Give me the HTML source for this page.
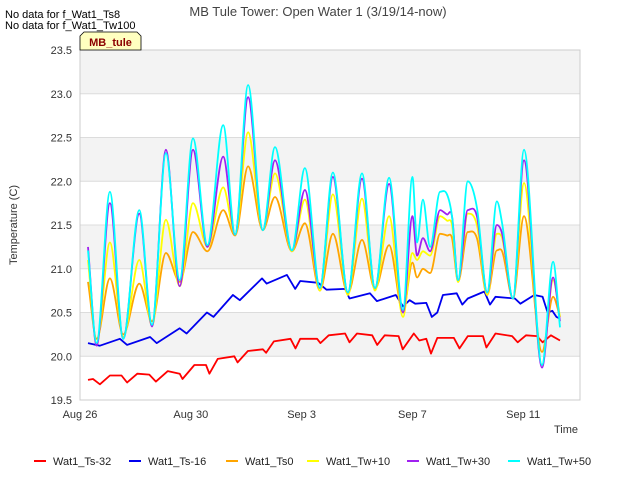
<!DOCTYPE html>
<html><head><meta charset="utf-8"><style>
body{margin:0;background:#fff;font-family:"Liberation Sans",sans-serif}
svg{display:block}
</style></head><body>
<svg id="chart" width="640" height="480" font-family="Liberation Sans, sans-serif">
<rect x="0" y="0" width="640" height="480" fill="#fff"/>
<g id="bands"></g>
<g id="grid"></g>
<rect x="80" y="50" width="500" height="350" fill="none" stroke="#ccc"/>
<g id="series"></g>
<g id="yticks"></g>
<g id="xticks"></g>
<text x="318" y="16" text-anchor="middle" font-size="13" fill="#444">MB Tule Tower: Open Water 1 (3/19/14-now)</text>
<text x="5" y="18" font-size="11" fill="#000">No data for f_Wat1_Ts8</text>
<text x="5" y="29" font-size="11" fill="#000">No data for f_Wat1_Tw100</text>
<g>
<path d="M80,50 L80,36 L84,32 L137,32 L141,36 L141,50 Z" fill="#ffffc0" stroke="#000" stroke-width="0.8"/>
<text x="110.5" y="46" text-anchor="middle" font-size="11" font-weight="bold" fill="#8b0000">MB_tule</text>
</g>
<text transform="translate(17,225) rotate(-90)" text-anchor="middle" font-size="11" fill="#333">Temperature (C)</text>
<text x="566" y="433" text-anchor="middle" font-size="11" fill="#333">Time</text>
<g id="legend"></g>
</svg>
<script>
const yTicks=[19.5,20.0,20.5,21.0,21.5,22.0,22.5,23.0,23.5];
const xTickDays=[0,4,8,12,16];
const xTickLabels=["Aug 26","Aug 30","Sep 3","Sep 7","Sep 11"];
const seriesNames=["Wat1_Ts-32","Wat1_Ts-16","Wat1_Ts0","Wat1_Tw+10","Wat1_Tw+30","Wat1_Tw+50"];
const seriesColors=["#ff0000","#0000ee","#ffa500","#ffff00","#a020f0","#00ffff"];
const tMix=[0.29,0.6,1.08,1.56,2.14,2.6,3.1,3.6,4.08,4.6,5.17,5.6,6.07,6.6,7.04,7.65,8.12,8.66,9.13,9.67,10.18,10.65,11.16,11.66,12.0,12.17,12.38,12.64,13.0,13.25,13.43,13.65,14.0,14.33,14.7,15.05,15.24,15.63,16.03,16.68,17.08,17.33];
const vTw50=[21.21,20.15,21.88,20.2,21.67,20.36,22.32,20.87,22.49,21.27,22.64,21.39,23.1,21.44,22.39,21.21,22.15,20.78,22.1,20.73,22.09,20.78,22.04,20.53,22.05,21.3,21.79,21.25,21.88,21.85,21.6,20.87,22.0,21.7,20.73,21.77,21.52,20.66,22.36,19.9,21.08,20.33];
const vTw30=[21.25,20.12,21.75,20.2,21.63,20.34,22.36,20.8,22.36,21.25,22.28,21.39,22.96,21.44,22.24,21.21,21.9,20.78,22.05,20.73,22.03,20.78,21.97,20.5,21.6,21.15,21.35,21.2,21.67,21.62,21.6,20.87,21.67,21.6,20.73,21.5,21.4,20.66,22.24,19.87,20.9,20.4];
const vTw10=[21.1,20.15,21.3,20.22,21.1,20.35,21.56,20.8,21.75,21.25,21.93,21.39,22.56,21.44,22.09,21.2,21.79,20.75,21.85,20.7,21.8,20.75,21.6,20.45,21.18,21.1,21.2,21.15,21.6,21.55,21.5,20.85,21.63,21.5,20.7,21.4,21.35,20.66,21.98,19.9,20.87,20.45];
const vTs0=[20.85,20.2,20.89,20.25,20.83,20.4,21.18,20.85,21.42,21.2,21.67,21.38,22.17,21.44,21.82,21.2,21.52,20.75,21.4,20.72,21.33,20.77,21.27,20.5,21.07,20.9,21.0,20.95,21.4,21.38,21.35,20.85,21.42,21.35,20.7,21.21,21.2,20.66,21.6,20.05,20.68,20.45];
const tTs16=[0.29,0.72,1.44,1.7,2.53,2.77,3.6,3.85,4.58,4.82,5.52,5.77,6.57,6.74,7.47,7.77,7.95,8.6,8.9,9.57,9.73,10.47,10.72,11.4,11.66,11.9,12.1,12.5,12.7,12.9,13.1,13.6,13.8,14.0,14.6,14.8,15.0,15.7,15.9,16.4,16.7,16.88,17.05,17.2,17.33];
const vTs16=[20.15,20.12,20.2,20.13,20.22,20.15,20.32,20.26,20.5,20.45,20.7,20.64,20.89,20.83,20.93,20.77,20.86,20.84,20.76,20.77,20.66,20.72,20.63,20.7,20.57,20.64,20.6,20.61,20.45,20.5,20.7,20.72,20.59,20.66,20.74,20.59,20.68,20.66,20.6,20.7,20.68,20.5,20.52,20.45,20.43];
const tTs32=[0.29,0.47,0.72,1.08,1.5,1.7,2.07,2.5,2.74,3.17,3.6,3.7,4.13,4.55,4.67,4.97,5.57,5.69,6.06,6.6,6.72,7.0,7.6,7.78,7.95,8.56,8.68,8.98,9.57,9.73,10.0,10.55,10.73,11.0,11.5,11.65,12.05,12.25,12.5,12.67,12.9,13.5,13.7,14.0,14.55,14.67,15.0,15.6,15.8,16.1,16.5,16.7,17.0,17.33];
const vTs32=[19.73,19.74,19.68,19.78,19.78,19.7,19.8,19.79,19.71,19.83,19.8,19.74,19.9,19.9,19.8,19.97,20.0,19.93,20.06,20.08,20.04,20.17,20.2,20.09,20.2,20.2,20.15,20.24,20.26,20.16,20.26,20.24,20.13,20.24,20.23,20.08,20.26,20.18,20.2,20.03,20.21,20.21,20.09,20.23,20.23,20.1,20.26,20.23,20.16,20.24,20.23,20.16,20.24,20.18];

const NS="http://www.w3.org/2000/svg";
const X0=80,X1=580,Y0=50,Y1=400,DAYPX=27.7;
function xS(d){return X0+d*DAYPX;}
function yS(v){return Y1-(v-19.5)/(23.5-19.5)*(Y1-Y0);}
function mk(tag,attrs,parent){const e=document.createElementNS(NS,tag);for(const k in attrs)e.setAttribute(k,attrs[k]);parent.appendChild(e);return e;}
function monoPath(xs,ys){
  const n=xs.length,d=[],m=[];
  for(let i=0;i<n-1;i++)d.push((ys[i+1]-ys[i])/(xs[i+1]-xs[i]));
  for(let i=0;i<n;i++){
    if(i===0)m.push(d[0]);else if(i===n-1)m.push(d[n-2]);
    else m.push(d[i-1]*d[i]<=0?0:(d[i-1]+d[i])/2);
  }
  let p='M'+xs[0].toFixed(1)+','+ys[0].toFixed(1);
  for(let i=0;i<n-1;i++){
    const h=(xs[i+1]-xs[i])/3;
    p+=' C'+(xs[i]+h).toFixed(1)+','+(ys[i]+m[i]*h).toFixed(1)+' '+(xs[i+1]-h).toFixed(1)+','+(ys[i+1]-m[i+1]*h).toFixed(1)+' '+xs[i+1].toFixed(1)+','+ys[i+1].toFixed(1);
  }
  return p;
}
function linePath(xs,ys){return xs.map((x,i)=>(i?'L':'M')+x.toFixed(1)+','+ys[i].toFixed(1)).join(' ');}

const bands=document.getElementById('bands');
for(let i=0;i<yTicks.length-1;i++){
  if(yTicks[i]*2%2===0){
    const r=mk('rect',{x:X0,y:yS(yTicks[i]+0.5),width:X1-X0,height:yS(yTicks[i])-yS(yTicks[i]+0.5),fill:'#f3f3f3'},bands);
    
    
  }
}
const grid=document.getElementById('grid'),yt=document.getElementById('yticks'),xt=document.getElementById('xticks');
yTicks.forEach(v=>{
  const l=mk('line',{x1:X0,x2:X1,y1:yS(v),y2:yS(v),stroke:'#dcdcdc'},grid);
  
  
  const t=mk('text',{x:72,y:yS(v)+4,'text-anchor':'end','font-size':11,fill:'#333'},yt);
  t.textContent=v.toFixed(1);
  
  
});
xTickDays.forEach((d,i)=>{
  const t=mk('text',{x:xS(d),y:418,'text-anchor':'middle','font-size':11,fill:'#333'},xt);
  t.textContent=xTickLabels[i];
  
  
});
const data=[[tTs32,vTs32],[tTs16,vTs16],[tMix,vTs0],[tMix,vTw10],[tMix,vTw30],[tMix,vTw50]];
const sg=document.getElementById('series');
data.forEach((s,i)=>{
  const xs=s[0].map(xS),ys=s[1].map(yS);
  const dd=i<2?linePath(xs,ys):monoPath(xs,ys);
  const p=mk('path',{d:dd,fill:'none',stroke:seriesColors[i],'stroke-width':1.8,'stroke-linejoin':'round'},sg);
  
  
});
const legX=[34,129,226,307,407,508];
const lg=document.getElementById('legend');
seriesNames.forEach((n,i)=>{
  const g=mk('g',{},lg);
  
  
  mk('line',{x1:legX[i],x2:legX[i]+12,y1:461,y2:461,stroke:seriesColors[i],'stroke-width':2},g);
  const t=mk('text',{x:legX[i]+19,y:465,'font-size':11,fill:'#222'},g);
  t.textContent=n;
});
</script>
</body></html>
